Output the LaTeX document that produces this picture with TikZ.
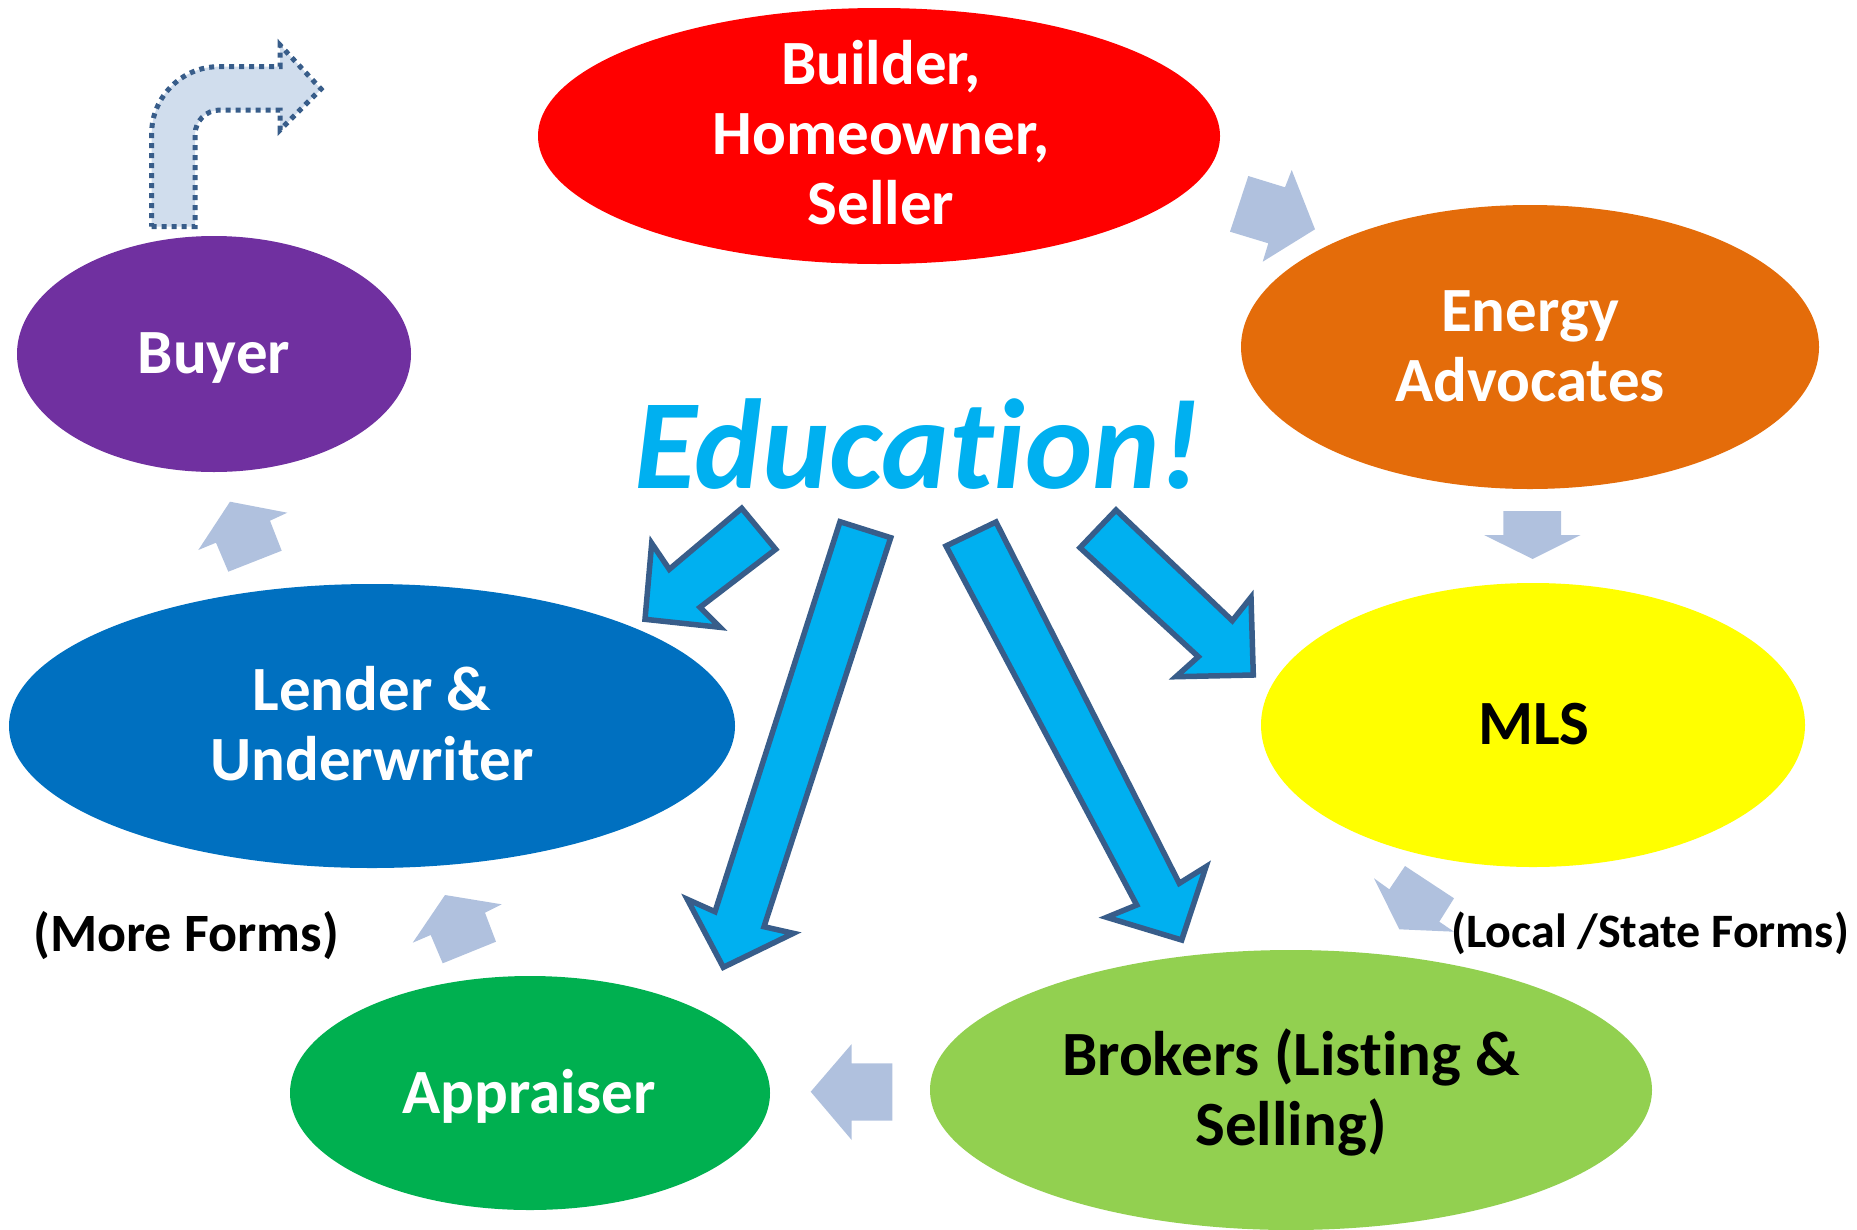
\documentclass[tikz,border=0pt]{standalone}
\usepackage{fontspec}
\setmainfont{Carlito}[Ligatures=NoCommon]
\usetikzlibrary{shapes.geometric}

\definecolor{cRed}{RGB}{255,0,0}
\definecolor{cOrange}{RGB}{228,108,10}
\definecolor{cYellow}{RGB}{255,255,0}
\definecolor{cLime}{RGB}{146,208,80}
\definecolor{cGreen}{RGB}{0,176,80}
\definecolor{cBlue}{RGB}{0,112,192}
\definecolor{cPurple}{RGB}{112,48,160}
\definecolor{cSky}{RGB}{0,176,240}
\definecolor{cEdge}{RGB}{56,93,138}
\definecolor{cGrey}{RGB}{176,193,222}
\definecolor{cPale}{RGB}{208,221,237}

\begin{document}
\begin{tikzpicture}[x=1pt,y=-1pt,
  bubble/.style={ellipse, draw=none, inner sep=0pt},
  lbl/.style={align=center, anchor=base, inner sep=0pt,
    font=\fontsize{63}{70}\selectfont\bfseries},
  note/.style={anchor=base, inner sep=0pt, font=\bfseries},
  bigarrow/.style={fill=cSky, draw=cEdge, line width=5.5pt, line join=miter},
  smallarrow/.style={fill=cGrey, draw=none},
  bentarrow/.style={fill=cPale, draw=cEdge, line width=5pt, line cap=butt,
    dash pattern=on 5pt off 5pt}
]
\useasboundingbox (0,0) rectangle (1857,1229);
\clip (0,0) rectangle (1857,1229);

% ellipses of the cycle
\node[bubble, fill=cRed,    minimum width=682pt, minimum height=256pt] (builder)   at (879,136)  {};
\node[bubble, fill=cOrange, minimum width=578pt, minimum height=284pt] (energy)    at (1530,347) {};
\node[bubble, fill=cYellow, minimum width=544pt, minimum height=284pt] (mls)       at (1533,725) {};
\node[bubble, fill=cLime,   minimum width=722pt, minimum height=280pt] (brokers)   at (1291,1090) {};
\node[bubble, fill=cGreen,  minimum width=480pt, minimum height=234pt] (appraiser) at (530,1093) {};
\node[bubble, fill=cBlue,   minimum width=726pt, minimum height=284pt] (lender)    at (372,726)  {};
\node[bubble, fill=cPurple, minimum width=394pt, minimum height=236pt] (buyer)     at (214,354)  {};

% ellipse labels (anchored on the baseline of their last line)
\node[lbl, text=white] (builder-t)   at (881,224)  {Builder,\\Homeowner,\\Seller};
\node[lbl, text=white] (energy-t)    at (1530,401) {Energy\\Advocates};
\node[lbl, text=black] (mls-t)       at (1534,744) {MLS};
\node[lbl, text=black] (brokers-t)   at (1291,1145) {Brokers (Listing \&\\Selling)};
\node[lbl, text=white] (appraiser-t) at (529,1113) {Appraiser};
\node[lbl, text=white] (lender-t)    at (372,780)  {Lender \&\\Underwriter};
\node[lbl, text=white] (buyer-t)     at (214,373)  {Buyer};

% small grey arrows between the stages
\fill[smallarrow] (1248.3,176) -- (1285,187.3) -- (1291.7,170) -- (1315,229.3)
  -- (1262.7,261.7) -- (1268.3,243.3) -- (1230,231.7) -- cycle;
\fill[smallarrow] (1503.3,511) -- (1561,511) -- (1561,535) -- (1580.7,535)
  -- (1532.7,559) -- (1484,535) -- (1503.3,535) -- cycle;
\fill[smallarrow] (1405,866) -- (1454,898.3) -- (1439.3,921.7) -- (1454,931.7)
  -- (1399.3,929.3) -- (1374,878.3) -- (1389.3,889.3) -- cycle;
\fill[smallarrow] (892.3,1063.3) -- (892.3,1120.7) -- (851.7,1120.7) -- (851.7,1140)
  -- (810.7,1091.7) -- (851.7,1044) -- (851.7,1063.3) -- cycle;
\fill[smallarrow] (445,895) -- (501.7,904.3) -- (485,912.7) -- (496,941.7)
  -- (442.7,963.3) -- (430.7,935) -- (412.7,942.7) -- cycle;
\fill[smallarrow] (230,501.7) -- (287.3,512.7) -- (270,520.7) -- (281.7,550.7)
  -- (228.3,571.7) -- (216,542.7) -- (198.3,550) -- cycle;

% bent arrow leaving the buyer
\draw[bentarrow] (151.7,226.7) -- (195,226.7) -- (195,135)
  .. controls (195,121) and (206,110) .. (220,110) -- (280,110) -- (280,130)
  -- (321,89) -- (280,45) -- (280,66.7) -- (218,66.7)
  .. controls (182,66.7) and (151.7,97) .. (151.7,133) -- cycle;

% central message
\node[anchor=base, inner sep=0pt, text=cSky,
  font=\fontsize{128}{150}\selectfont\bfseries\itshape] (education) at (918,488) {Education!};

% blue arrows fanning out from the message
\draw[bigarrow] (741.7,508.3) -- (775.7,549.3) -- (700,607.3) -- (720,627.3)
  -- (645,619.3) -- (651.7,543.3) -- (669.3,569.3) -- cycle;
\draw[bigarrow] (840,521.7) -- (890.7,537.7) -- (764,926.7) -- (793.3,933.3)
  -- (723.3,967.3) -- (687.3,899.3) -- (715,911.7) -- cycle;
\draw[bigarrow] (946,546) -- (996,522) -- (1179.3,883.3) -- (1206,866.7)
  -- (1181.7,940) -- (1106.7,917.3) -- (1136.7,905) -- cycle;
\draw[bigarrow] (1116,510) -- (1232.3,620.7) -- (1251,597.3) -- (1253.3,675)
  -- (1176,676.7) -- (1198.3,656.7) -- (1080,547.7) -- cycle;

% side notes
\node[note, font=\fontsize{54}{60}\selectfont\bfseries] (more-forms)  at (186,951)  {(More Forms)};
\node[note, font=\fontsize{48}{56}\selectfont\bfseries] (local-forms) at (1650,947) {(Local /State Forms)};
\end{tikzpicture}
\end{document}
